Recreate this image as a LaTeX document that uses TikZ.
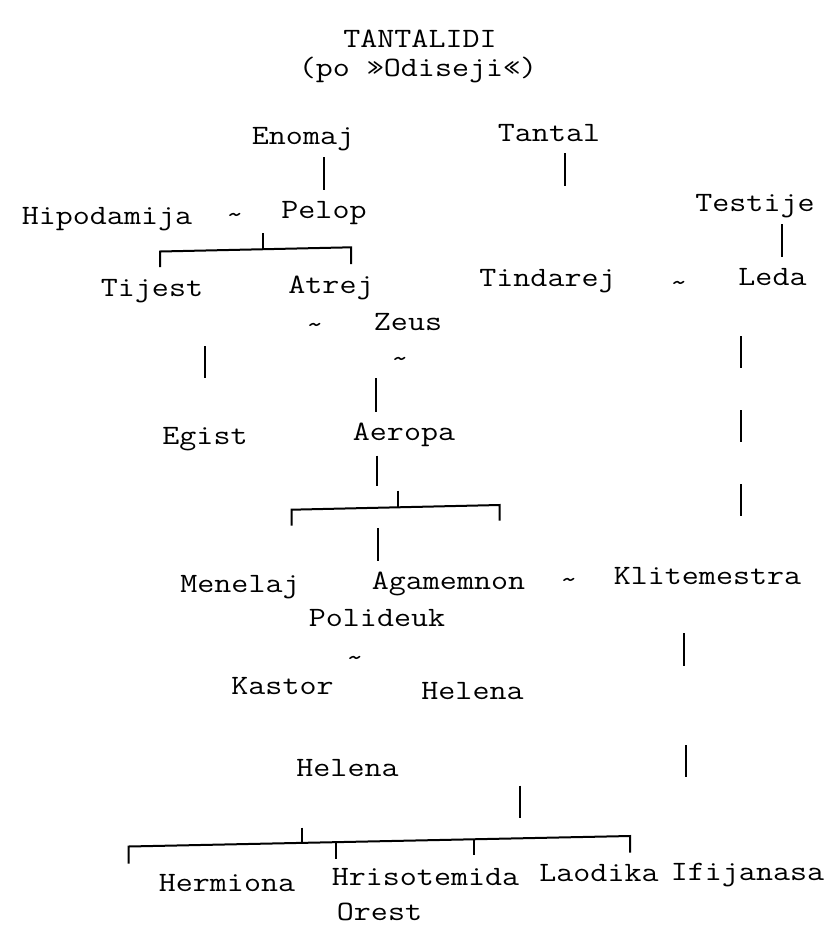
\documentclass[tikz,border=0pt]{standalone}
\usepackage{fontspec}
\newfontfamily\tw[FakeStretch=1.18]{Latin Modern Mono}
\begin{document}
\begin{tikzpicture}[x=0.75pt,y=-0.75pt,
  lbl/.style={anchor=base,inner sep=0pt,font=\tw\fontsize{21}{25}\selectfont},
  ln/.style={line width=1.5pt,line cap=butt}]
\fill[white] (0,0) rectangle (819,926);
% titles
\node[lbl] (t1) at (420,47) {TANTALIDI};
\node[lbl] (t2) at (418,76) {(po »Odiseji«)};
% names
\node[lbl] (enomaj) at (303,144) {Enomaj};
\node[lbl] (tantal) at (549,141) {Tantal};
\node[lbl] (hipodamija) at (107,224) {Hipodamija};
\node[lbl] (m1) at (235,223) {\textasciitilde};
\node[lbl] (pelop) at (324,218.5) {Pelop};
\node[lbl] (testije) at (755,211.5) {Testije};
\node[lbl] (tijest) at (152,296) {Tijest};
\node[lbl] (atrej) at (331,293) {Atrej};
\node[lbl] (tindarej) at (547.5,286.5) {Tindarej};
\node[lbl] (m2) at (679,291) {\textasciitilde};
\node[lbl] (leda) at (772.5,285) {Leda};
\node[lbl] (m3) at (315,333) {\textasciitilde};
\node[lbl] (zeus) at (408,330) {Zeus};
\node[lbl] (m4) at (400,367.5) {\textasciitilde};
\node[lbl] (egist) at (205,444) {Egist};
\node[lbl] (aeropa) at (404,440.5) {Aeropa};
\node[lbl] (menelaj) at (240,592) {Menelaj};
\node[lbl] (agamemnon) at (448.5,589) {Agamemnon};
\node[lbl] (m5) at (569,588) {\textasciitilde};
\node[lbl] (klitemestra) at (707.5,584) {Klitemestra};
\node[lbl] (polideuk) at (377,626.5) {Polideuk};
\node[lbl] (m6) at (355,666.5) {\textasciitilde};
\node[lbl] (kastor) at (282.5,694) {Kastor};
\node[lbl] (helenaA) at (472.5,699) {Helena};
\node[lbl] (helenaB) at (347.5,776.5) {Helena};
\node[lbl] (hermiona) at (227,891) {Hermiona};
\node[lbl] (hrisotemida) at (425.5,885.5) {Hrisotemida};
\node[lbl] (laodika) at (599,881) {Laodika};
\node[lbl] (ifijanasa) at (747.5,880) {Ifijanasa};
\node[lbl] (orest) at (379.5,920) {Orest};
% connector end points
\coordinate (enA) at (323.5,157); \coordinate (enB) at (323.5,190);
\coordinate (taA) at (565,153); \coordinate (taB) at (565,186);
\coordinate (teA) at (782,224); \coordinate (teB) at (782,257);
\coordinate (peS) at (263,233); \coordinate (peM) at (263,249.5);
\coordinate (peL) at (160,251.5); \coordinate (peR) at (351,247.3);
\coordinate (peLd) at (160,267); \coordinate (peRd) at (351,264);
\coordinate (tiA) at (204.5,346); \coordinate (tiB) at (204.5,378);
\coordinate (leA) at (740.5,336); \coordinate (leB) at (740.5,368);
\coordinate (leC) at (741,410); \coordinate (leD) at (741,442);
\coordinate (leE) at (741,484); \coordinate (leF) at (741,516);
\coordinate (zeA) at (375.5,378); \coordinate (zeB) at (375.5,412);
\coordinate (aeA) at (376.5,455.5); \coordinate (aeB) at (376.5,486);
\coordinate (aeS) at (397.5,490.5); \coordinate (aeM) at (397.5,506.8);
\coordinate (aeL) at (291.5,509.7); \coordinate (aeR) at (499.5,505);
\coordinate (aeLd) at (291.5,525.7); \coordinate (aeRd) at (499.5,520.7);
\coordinate (agA) at (377.5,528); \coordinate (agB) at (377.5,560.5);
\coordinate (klA) at (683.5,633); \coordinate (klB) at (683.5,665.5);
\coordinate (klC) at (685.5,745); \coordinate (klD) at (685.5,777);
\coordinate (heA) at (520,785.5); \coordinate (heB) at (520,817.5);
\coordinate (boS) at (301.5,827.5); \coordinate (boM) at (301.5,842.9);
\coordinate (boL) at (128.5,846.5); \coordinate (boR) at (630,836);
\coordinate (boLd) at (128.5,863.5);
\coordinate (bo2) at (335.7,842.2); \coordinate (bo2d) at (335.7,859.3);
\coordinate (bo3) at (473.7,839.3); \coordinate (bo3d) at (473.7,855);
\coordinate (boRd) at (630,852.7);
% connectors
\draw[ln] (enA) -- (enB);
\draw[ln] (taA) -- (taB);
\draw[ln] (teA) -- (teB);
\draw[ln] (peS) -- (peM);
\draw[ln] (peLd) -- (peL) -- (peR) -- (peRd);
\draw[ln] (tiA) -- (tiB);
\draw[ln] (leA) -- (leB);
\draw[ln] (leC) -- (leD);
\draw[ln] (leE) -- (leF);
\draw[ln] (zeA) -- (zeB);
\draw[ln] (aeA) -- (aeB);
\draw[ln] (aeS) -- (aeM);
\draw[ln] (aeLd) -- (aeL) -- (aeR) -- (aeRd);
\draw[ln] (agA) -- (agB);
\draw[ln] (klA) -- (klB);
\draw[ln] (klC) -- (klD);
\draw[ln] (heA) -- (heB);
\draw[ln] (boS) -- (boM);
\draw[ln] (boLd) -- (boL) -- (boR) -- (boRd);
\draw[ln] (bo2) -- (bo2d);
\draw[ln] (bo3) -- (bo3d);
\end{tikzpicture}
\end{document}
